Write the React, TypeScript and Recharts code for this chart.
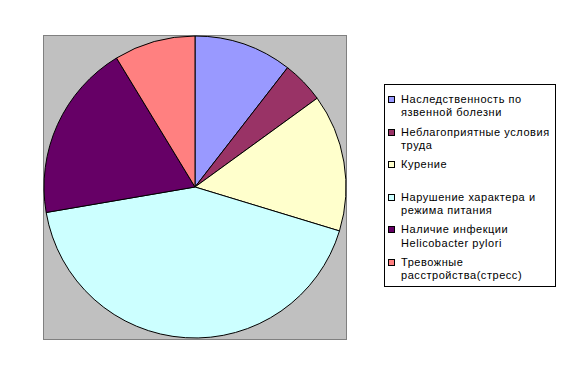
import React from 'react';
import { PieChart, Pie, Cell, Legend } from 'recharts';

const categories = [
  'Наследственность по язвенной болезни',
  'Неблагоприятные условия труда',
  'Курение',
  'Нарушение характера и режима питания',
  'Наличие инфекции Helicobacter pylori',
  'Тревожные расстройства(стресс)',
];
const legendLines = [
  ['Наследственность по', 'язвенной болезни'],
  ['Неблагоприятные условия', 'труда'],
  ['Курение', ''],
  ['Нарушение характера и', 'режима питания'],
  ['Наличие инфекции', 'Helicobacter pylori'],
  ['Тревожные', 'расстройства(стресс)'],
];
const values = [10.5, 4.5, 14.7, 42.6, 19.0, 8.7];
const colors = ['#9999FF', '#993366', '#FFFFCC', '#CCFFFF', '#660066', '#FF8080'];

const data = categories.map((name, i) => ({ name, value: values[i] }));

const renderLegend = () => (
  <div
    style={{
      width: 172,
      height: 203,
      border: '1px solid #000',
      background: '#fff',
      boxSizing: 'border-box',
      paddingTop: 8,
      fontFamily: 'Liberation Sans, Arial, sans-serif',
      fontSize: 11,
      letterSpacing: 0.55,
      color: '#000',
    }}
  >
    {legendLines.map((lines, i) => (
      <div key={i} style={{ position: 'relative', height: 32.6, paddingLeft: 16, lineHeight: '13.3px' }}>
        <div
          style={{
            position: 'absolute',
            left: 3,
            top: 3,
            width: 5,
            height: 5,
            background: colors[i],
            border: '1px solid #000',
          }}
        />
        <div style={{ whiteSpace: 'nowrap' }}>{lines[0]}</div>
        <div style={{ whiteSpace: 'nowrap' }}>{lines[1] || '\u00a0'}</div>
      </div>
    ))}
  </div>
);

export default function App() {
  return (
    <div style={{ position: 'absolute', left: 0, top: 0, width: 564, height: 375, background: '#fff' }}>
      <div
        style={{
          position: 'absolute',
          left: 43,
          top: 35,
          width: 302,
          height: 303,
          background: '#C0C0C0',
          border: '1px solid #808080',
        }}
      />
      <div style={{ position: 'absolute', left: 0, top: 0 }}>
        <PieChart width={564} height={375} margin={{ top: 0, right: 0, bottom: 0, left: 0 }}>
          <Pie
            data={data}
            dataKey="value"
            nameKey="name"
            cx={195}
            cy={187}
            outerRadius={151}
            startAngle={90}
            endAngle={-270}
            stroke="#000"
            strokeWidth={1}
            isAnimationActive={false}
          >
            {data.map((d, i) => (
              <Cell key={d.name} fill={colors[i]} />
            ))}
          </Pie>
          <Legend
            content={renderLegend}
            wrapperStyle={{ position: 'absolute', left: 384, top: 84, width: 172, height: 203 }}
          />
        </PieChart>
      </div>
    </div>
  );
}
